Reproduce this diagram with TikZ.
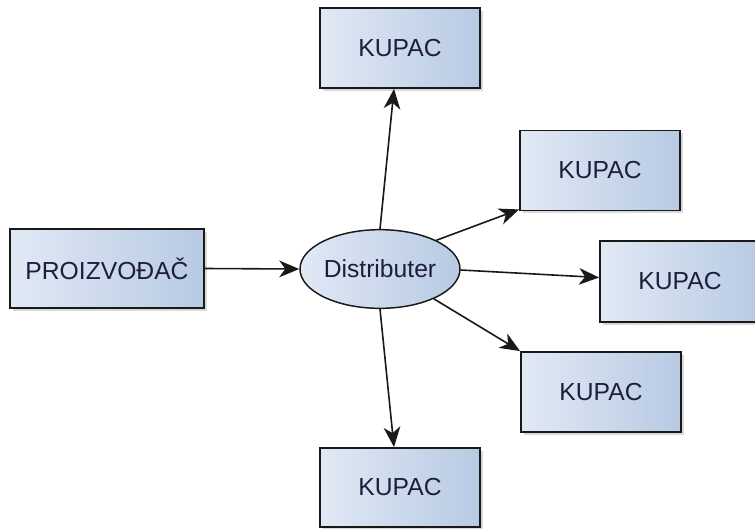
\documentclass[tikz,border=0pt]{standalone}
\usepackage{fontspec}
\setmainfont{Liberation Sans}
\usetikzlibrary{arrows.meta,shapes.geometric,shadows}
\definecolor{fillA}{HTML}{E1E9F5}
\definecolor{fillB}{HTML}{B7CAE3}
\definecolor{txt}{HTML}{1E1E3C}
\tikzset{
  boxstyle/.style={draw=black!90, line width=1.4pt, left color=fillA, right color=fillB,
    minimum width=120pt, minimum height=60pt, inner sep=0pt, text=txt,
    font=\fontsize{18.5}{21}\selectfont,
    drop shadow={shadow xshift=2pt, shadow yshift=-2pt, opacity=0.25, fill=black!60}},
  ellstyle/.style={ellipse, draw=black!90, line width=1.1pt, left color=fillA, right color=fillB,
    minimum width=120pt, minimum height=59pt, inner sep=0pt, text=txt,
    font=\fontsize{18.5}{21}\selectfont},
  conn/.style={line width=1.2pt, draw=black!90, -{Stealth[length=15pt,width=12.5pt,inset=4.5pt]}}
}
\begin{document}
\begin{tikzpicture}[x=0.75pt,y=-0.75pt]
\useasboundingbox (0,0) rectangle (755,528);
\node[boxstyle, minimum width=145.5pt, minimum height=59.25pt] (prod) at (107,268.5) {PROIZVOĐAČ};
\node[ellstyle] (dist) at (380,269) {Distributer};
\node[boxstyle] (top) at (400,48) {KUPAC};
\node[boxstyle] (k1) at (600,170.5) {KUPAC};
\node[boxstyle, minimum height=60.75pt] (k2) at (680,281.5) {KUPAC};
\node[boxstyle] (k3) at (601,392) {KUPAC};
\node[boxstyle, minimum height=59.25pt] (bot) at (400,487.5) {KUPAC};
\draw[conn] (prod.east) -- (dist.west);
\draw[conn] (dist.north) -- ([xshift=-4.5pt]top.south);
\draw[conn] (dist.27) -- ([yshift=1.5pt]k1.south west);
\draw[conn] ([yshift=-0.75pt]dist.east) -- ([yshift=3pt]k2.west);
\draw[conn] (dist.-29) -- (k3.north west);
\draw[conn] (dist.south) -- ([xshift=-4.5pt]bot.north);
\end{tikzpicture}
\end{document}
